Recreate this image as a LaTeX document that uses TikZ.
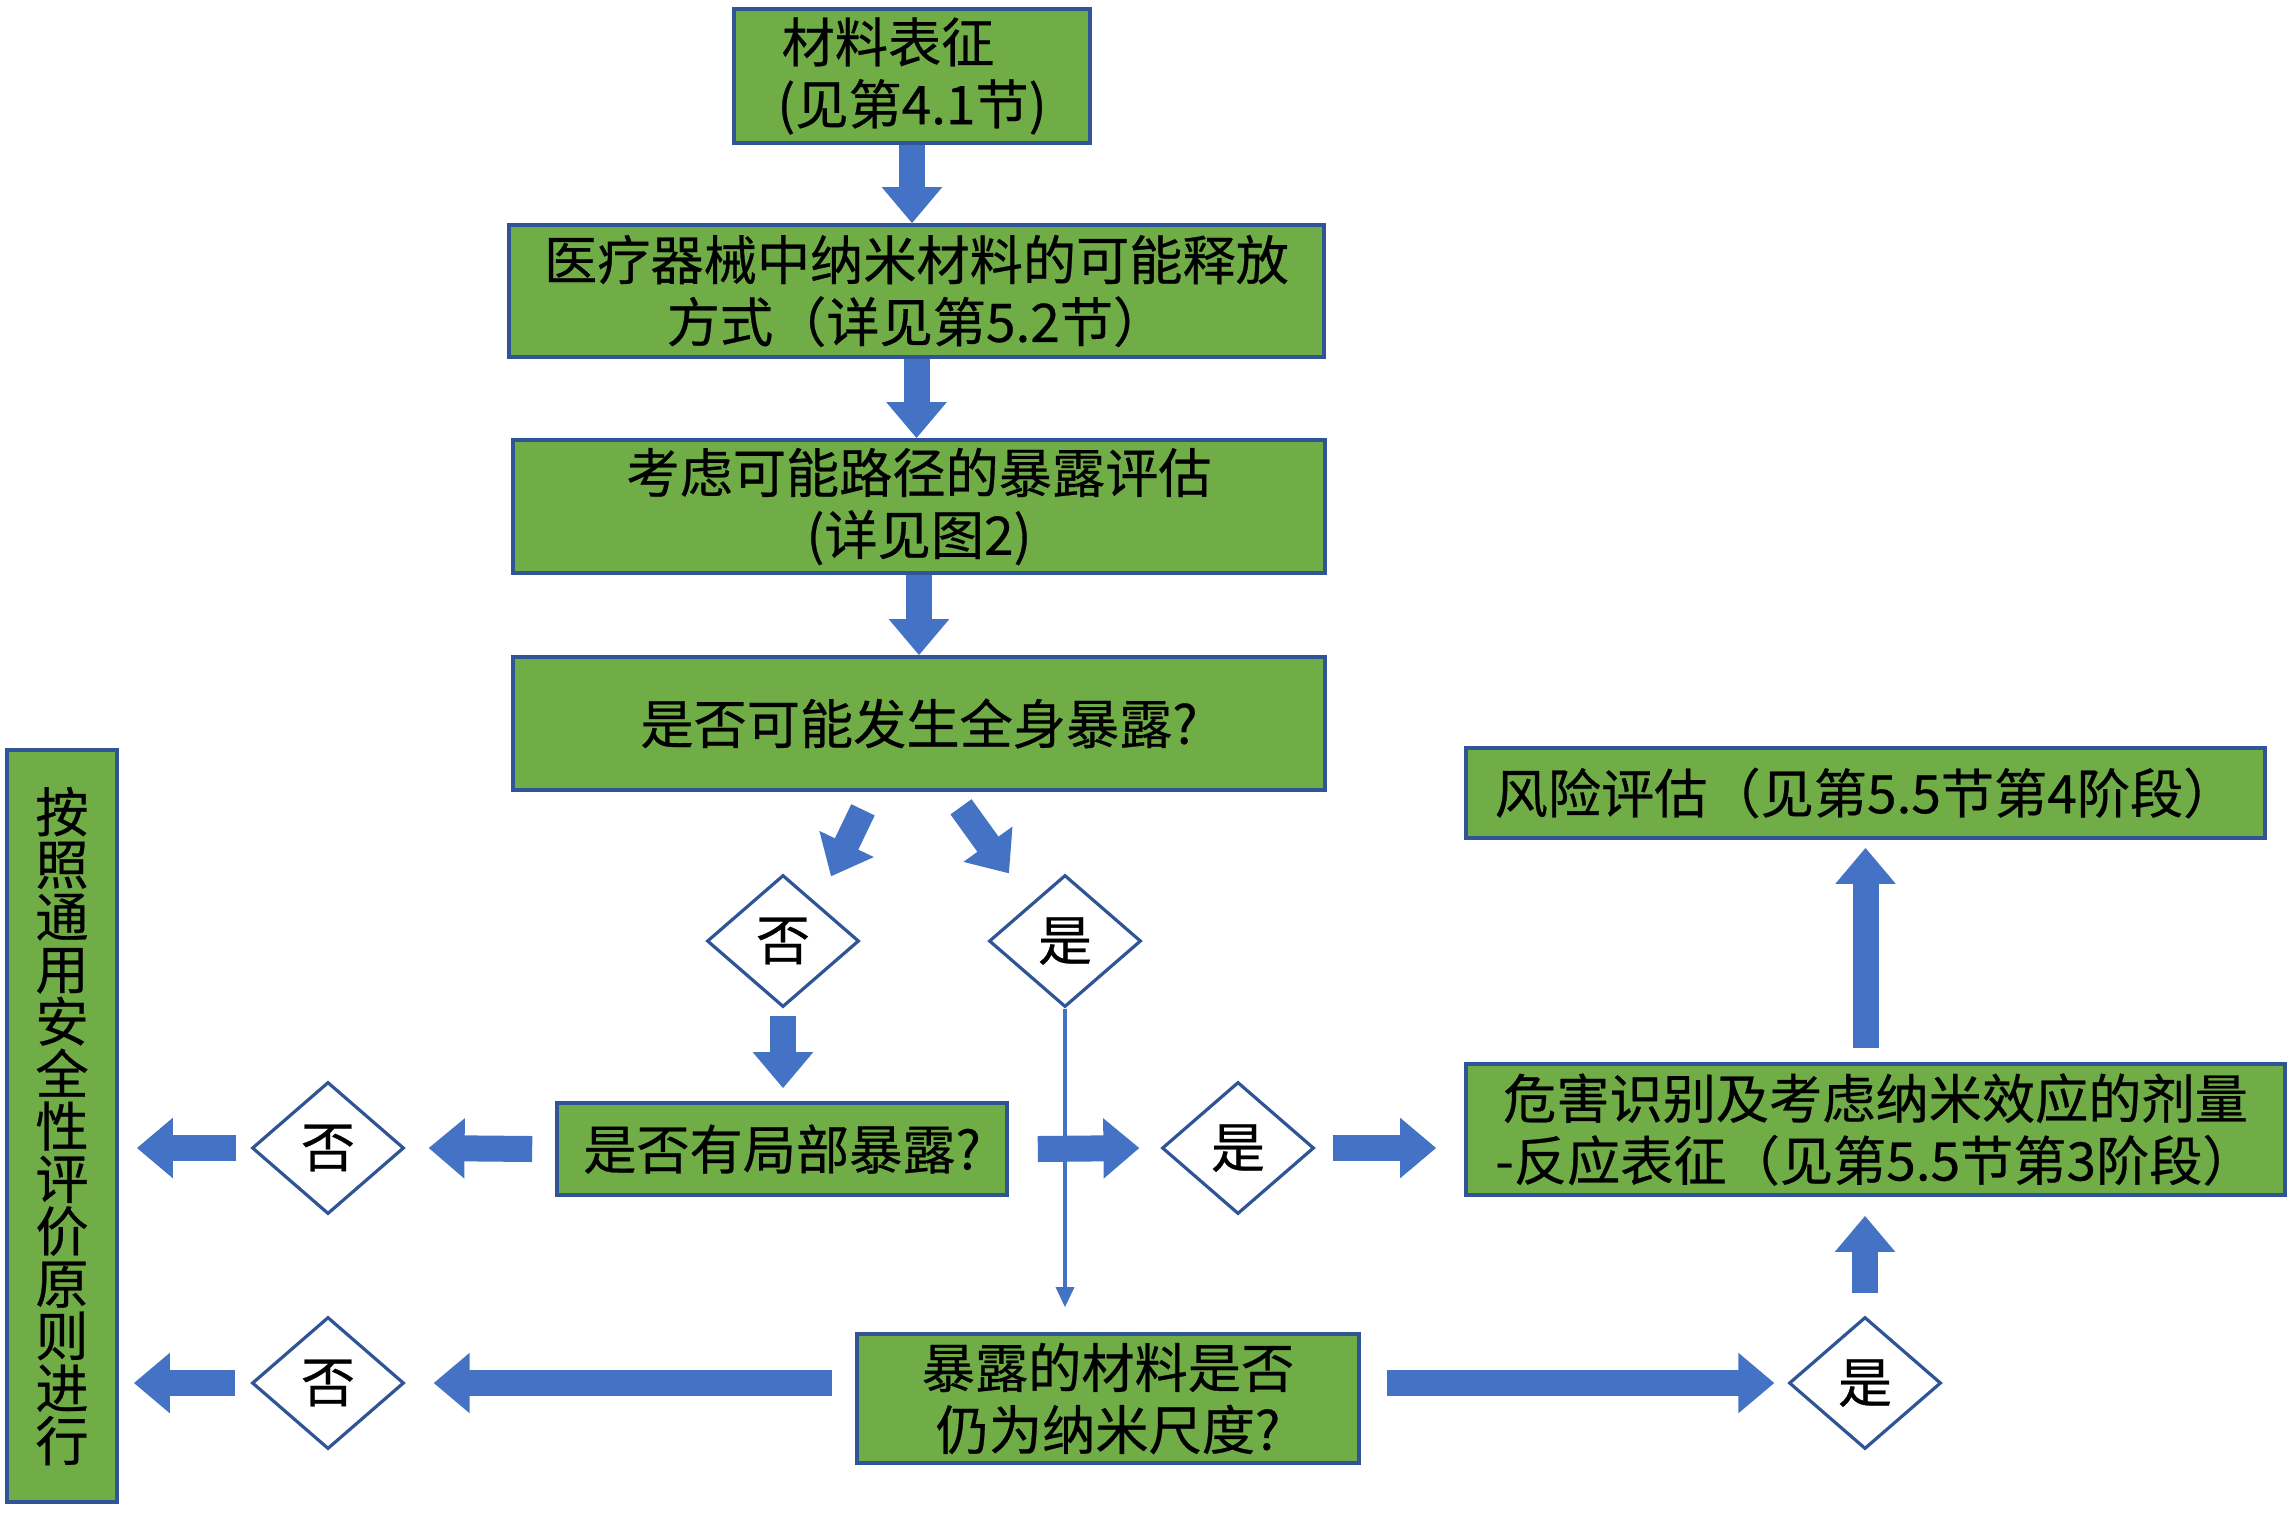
\documentclass[tikz,border=0pt]{standalone}
\usepackage{fontspec}
\setmainfont{Noto Sans CJK SC}[FakeBold=0.5]
\usetikzlibrary{arrows.meta,calc,shapes.geometric}
\definecolor{boxgreen}{HTML}{70AD47}
\definecolor{boxblue}{HTML}{2F5597}
\definecolor{arrblue}{HTML}{4472C4}
\begin{document}
\begin{tikzpicture}[x=0.5pt,y=-0.5pt,
  box/.style={draw=boxblue, line width=1.8pt, fill=boxgreen, inner sep=0pt, align=center,
    font=\fontsize{26.6}{31}\selectfont},
  dec/.style={diamond, draw=boxblue, line width=1.6pt, fill=white, inner sep=0pt,
    minimum width=76pt, minimum height=66pt, font=\fontsize{27}{30}\selectfont},
  barrow/.style={draw=arrblue, line width=13pt, -{Triangle[width=29pt,length=18pt]}},
  thinarrow/.style={draw=arrblue, line width=1.6pt, -{Triangle[width=9pt,length=10pt]}}]
\useasboundingbox (0,0) rectangle (2294,1512);
\fill[white] (0,0) rectangle (2294,1512);

\node[box, minimum width=178pt, minimum height=67pt] (b1) at (912,76) {材料表征\kern0.9em\\(见第4.1节)};
\node[box, minimum width=407.5pt, minimum height=66pt] (b2) at (916.5,291) {医疗器械中纳米材料的可能释放\\方式（详见第5.2节）};
\node[box, minimum width=406pt, minimum height=66.5pt] (b3) at (919,506.5) {考虑可能路径的暴露评估\\(详见图2)};
\node[box, minimum width=406pt, minimum height=66.5pt] (b4) at (919,723.5) {是否可能发生全身暴露?};
\node[dec] (d1) at (783,941) {否};
\node[dec] (d2) at (1065,941) {是};
\node[box, minimum width=225pt, minimum height=46pt] (b5) at (782,1149) {是否有局部暴露?};
\node[dec] (d3) at (328,1148) {否};
\node[box, minimum width=55pt, minimum height=376pt, font=\fontsize{26.6}{26.2}\selectfont] (L) at (62,1126)
  {按\\照\\通\\用\\安\\全\\性\\评\\价\\原\\则\\进\\行};
\node[dec] (d4) at (1238,1148) {是};
\node[box, minimum width=409.5pt, minimum height=65.5pt] (b6) at (1875.5,1129.5) {危害识别及考虑纳米效应的剂量\\-反应表征（见第5.5节第3阶段）};
\node[box, minimum width=399.5pt, minimum height=45pt] (b7) at (1865.5,793) {风险评估（见第5.5节第4阶段）};
\node[box, minimum width=251pt, minimum height=64.5pt] (b8) at (1108,1398.5) {暴露的材料是否\\仍为纳米尺度?};
\node[dec] (d5) at (328,1383) {否};
\node[dec] (d6) at (1865,1383) {是};

\draw[barrow] (b1.south) -- (b1.south |- b2.north);
\draw[barrow] (b2.south) -- (b2.south |- b3.north);
\draw[barrow] (b3.south) -- (b3.south |- b4.north);
\draw[barrow] ($(b4.south)+(-56,18)$) -- ($(d1.north)+(48,3)$);
\draw[barrow] ($(b4.south)+(42,15)$) -- ($(d2.north)+(-56,0)$);
\draw[barrow] ($(d1.south)+(0,7)$) -- ($(d1.south|-b5.north)+(0,-13)$);
\draw[barrow] ($(b5.west)+(-23,0)$) -- ($(d3.east)+(23,0)$);
\draw[barrow] ($(d3.west)+(-14,0)$) -- ($(L.east|-d3.west)+(18,0)$);
\draw[thinarrow] (d2.south) -- ($(d2.south|-b8.north)+(0,-25)$);
\draw[barrow] ($(b5.east)+(29,0)$) -- ($(d4.west)+(-21,0)$);
\draw[barrow] ($(d4.east)+(17,0)$) -- ($(d4.east-|b6.west)+(-28,0)$);
\draw[barrow] ($(b7.south|-b6.north)+(0,-14)$) -- ($(b7.south)+(0,8)$);
\draw[barrow] ($(d5.east-|b8.west)+(-23,0)$) -- ($(d5.east)+(28,0)$);
\draw[barrow] ($(d5.west)+(-15,0)$) -- ($(L.east|-d5.west)+(15,0)$);
\draw[barrow] ($(d6.west-|b8.east)+(26,0)$) -- ($(d6.west)+(-13,0)$);
\draw[barrow] ($(d6.north)+(0,-22)$) -- ($(d6.north|-b6.south)+(0,19)$);
\end{tikzpicture}
\end{document}
